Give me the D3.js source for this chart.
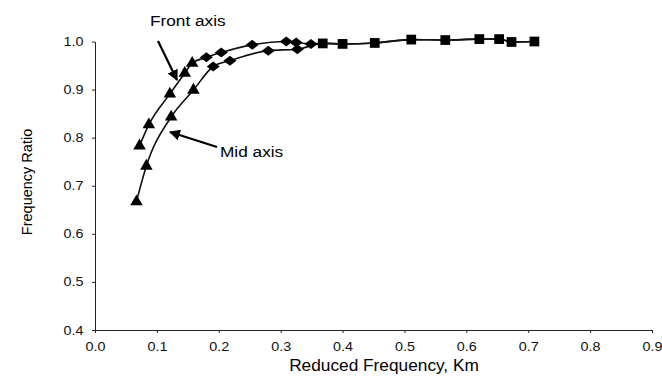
<!DOCTYPE html>
<html>
  <head>
    <meta charset="UTF-8">
    <style>
      body {
        margin: 0;
        background: white;
        font-family: "Liberation Sans", Arial, Helvetica, sans-serif;
      }

      .axis text {
        font-size: 12.5px;
        fill: #111;
      }

      .axis .domain,
      .axis .tick line {
        stroke: #222;
      }
    </style>
    <script src="https://d3js.org/d3.v7.min.js"></script>
  </head>

  <body>
    <svg id="chart"></svg>

    <script type="text/javascript">
      // front axis points (triangles, then diamonds)
      let frontTriX = [0.072, 0.087, 0.121, 0.145, 0.157]
      let frontTriY = [0.783, 0.827, 0.891, 0.934, 0.955]
      let frontDiaX = [0.180, 0.204, 0.254, 0.309, 0.325, 0.349]
      let frontDiaY = [0.967, 0.977, 0.993, 1.000, 0.998, 0.995]

      // mid axis points
      let midTriX = [0.067, 0.083, 0.123, 0.159]
      let midTriY = [0.667, 0.741, 0.843, 0.899]
      let midDiaX = [0.191, 0.218, 0.280, 0.327]
      let midDiaY = [0.948, 0.960, 0.981, 0.984]

      // shared high frequency points (squares)
      let squareX = [0.368, 0.400, 0.452, 0.511, 0.566, 0.621, 0.653, 0.673, 0.710]
      let squareY = [0.996, 0.995, 0.997, 1.004, 1.003, 1.005, 1.005, 0.999, 1.000]

      let xTicks = [0, 0.1, 0.2, 0.3, 0.4, 0.5, 0.6, 0.7, 0.8, 0.9]
      let yTicks = [0.4, 0.5, 0.6, 0.7, 0.8, 0.9, 1.0]

      // scanned figure looks a little wide, so text gets stretched too
      let stretch = 'scale(1.15, 1)'

      function pts(xs, ys) {
        return xs.map((x, i) => ({ x: x, y: ys[i] }))
      }

      let width = 662
      let height = 384

      let svg = d3.select('#chart')
        .attr('width', width)
        .attr('height', height)

      let xScale = d3.scaleLinear()
        .domain([0, 0.9])
        .range([95, 652])

      let yScale = d3.scaleLinear()
        .domain([0.4, 1.0])
        .range([330, 41.5])

      // axes
      let axisX = d3.axisBottom(xScale)
        .tickValues(xTicks)
        .tickFormat(d3.format('.1f'))
        .tickSizeInner(3)
        .tickSizeOuter(0)
        .tickPadding(9)

      svg.append('g')
        .attr('class', 'axis')
        .attr('transform', `translate(0, ${yScale(0.4)})`)
        .call(axisX)
        .selectAll('text')
          .attr('transform', stretch)

      let axisY = d3.axisLeft(yScale)
        .tickValues(yTicks)
        .tickFormat(d3.format('.1f'))
        .tickSizeInner(3)
        .tickSizeOuter(0)
        .tickPadding(7)

      svg.append('g')
        .attr('class', 'axis')
        .attr('transform', `translate(${xScale(0)}, 0)`)
        .call(axisY)
        .selectAll('text')
          .attr('transform', stretch)

      svg.append('text')
        .attr('transform', `translate(384, 371) scale(1.08, 1)`)
        .attr('text-anchor', 'middle')
        .style('font-size', '16px')
        .text('Reduced Frequency, Km')

      svg.append('text')
        .attr('transform', 'translate(32, 182) rotate(-90)')
        .attr('text-anchor', 'middle')
        .style('font-size', '14.5px')
        .text('Frequency Ratio')

      // curves
      let line = d3.line()
        .x(d => xScale(d.x))
        .y(d => yScale(d.y))
        .curve(d3.curveMonotoneX)

      let frontLine = pts(frontTriX, frontTriY).concat(pts(frontDiaX, frontDiaY), pts(squareX, squareY))
      let midLine = pts(midTriX, midTriY).concat(pts(midDiaX, midDiaY), pts(squareX, squareY))

      ;[frontLine, midLine].forEach(data => {
        svg.append('path')
          .datum(data)
          .attr('d', line)
          .attr('fill', 'none')
          .attr('stroke', '#111')
          .attr('stroke-width', 1.6)
      })

      // markers
      let triangle = d3.symbol().type(d3.symbolTriangle).size(68)
      let square = d3.symbol().type(d3.symbolSquare).size(95)
      let diamond = () => 'M-6.5,0L0,-5L6.5,0L0,5Z'

      function drawMarkers(data, symbol) {
        svg.append('g')
          .selectAll('path')
          .data(data)
          .join('path')
            .attr('d', symbol)
            .attr('transform', d => `translate(${xScale(d.x)}, ${yScale(d.y)})`)
            .attr('fill', '#000')
      }

      drawMarkers(pts(frontTriX, frontTriY), triangle)
      drawMarkers(pts(midTriX, midTriY), triangle)
      drawMarkers(pts(frontDiaX, frontDiaY), diamond)
      drawMarkers(pts(midDiaX, midDiaY), diamond)
      drawMarkers(pts(squareX, squareY), square)

      // annotations
      svg.append('defs')
        .append('marker')
        .attr('id', 'head')
        .attr('viewBox', '0 0 10 10')
        .attr('refX', 9)
        .attr('refY', 5)
        .attr('markerWidth', 5)
        .attr('markerHeight', 5)
        .attr('orient', 'auto')
        .append('path')
        .attr('d', 'M0,0 L10,5 L0,10 z')
        .attr('fill', '#000')

      svg.append('text')
        .attr('transform', `translate(150, 26) ${stretch}`)
        .style('font-size', '15px')
        .text('Front axis')

      svg.append('line')
        .attr('x1', 158).attr('y1', 41)
        .attr('x2', 177).attr('y2', 80)
        .attr('stroke', '#000')
        .attr('stroke-width', 2.2)
        .attr('marker-end', 'url(#head)')

      svg.append('text')
        .attr('transform', `translate(220, 157) ${stretch}`)
        .style('font-size', '15px')
        .text('Mid axis')

      svg.append('line')
        .attr('x1', 217).attr('y1', 147)
        .attr('x2', 170).attr('y2', 132)
        .attr('stroke', '#000')
        .attr('stroke-width', 2.2)
        .attr('marker-end', 'url(#head)')
    </script>
  </body>
</html>
